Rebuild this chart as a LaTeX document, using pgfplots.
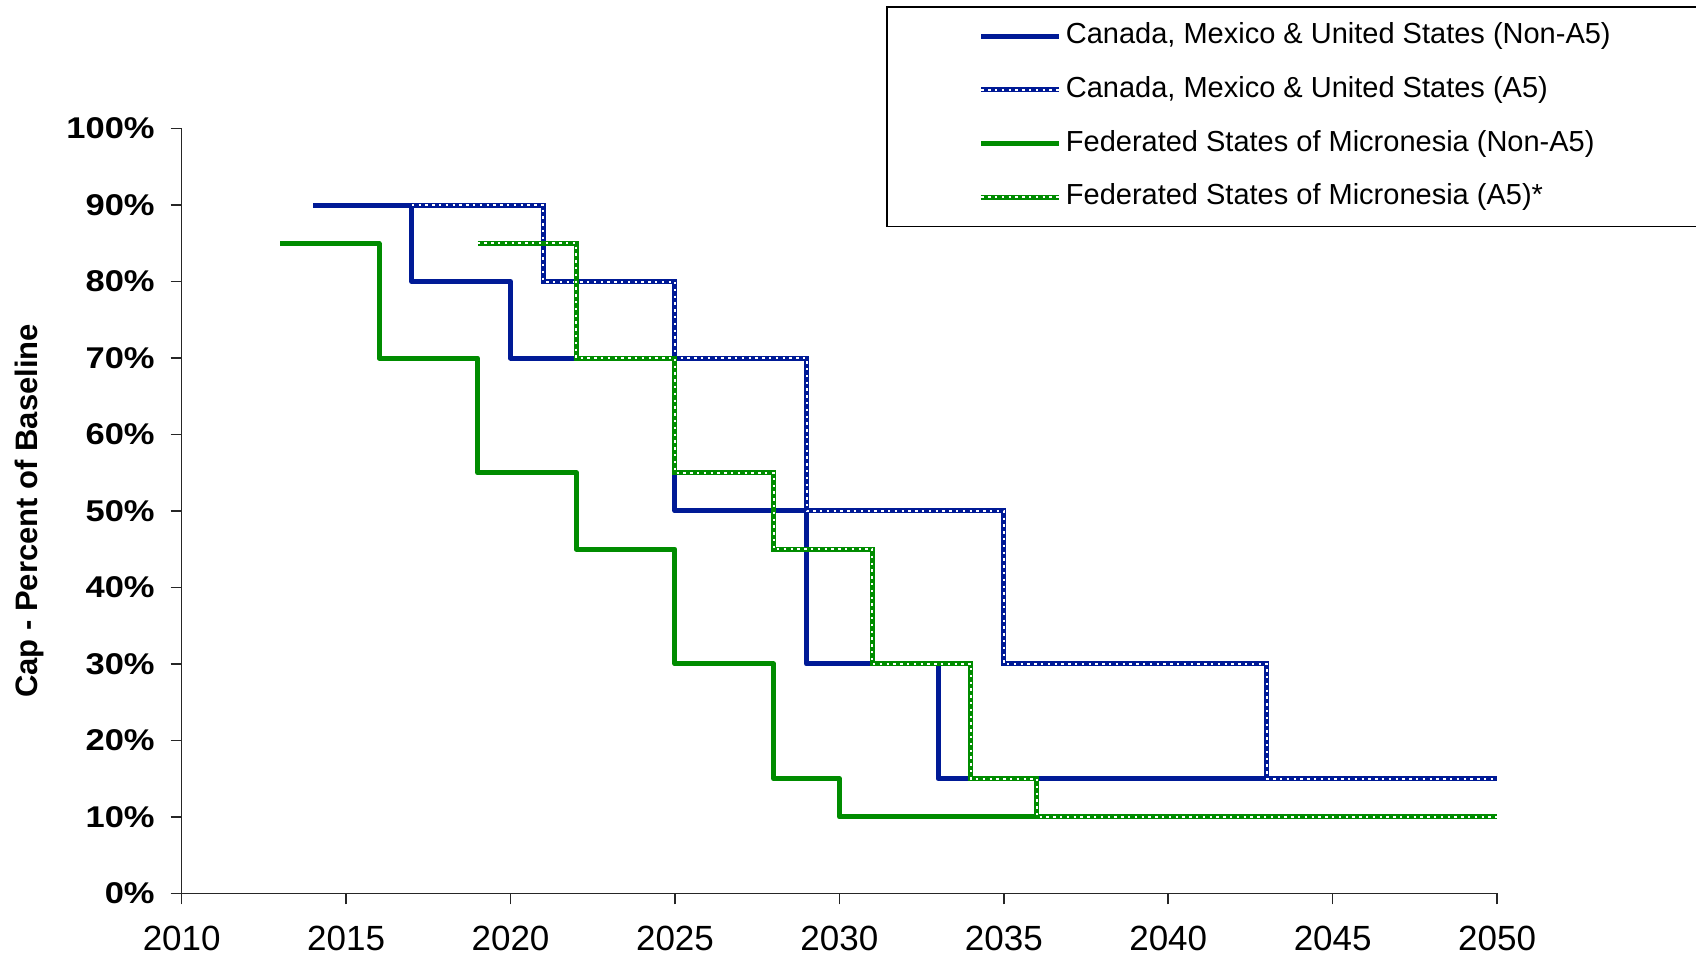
\documentclass[border=0pt]{standalone}
\usepackage{fontspec}
\setmainfont{Liberation Sans}
\newfontfamily\ybfont[FakeStretch=1.15]{Liberation Sans}
\usepackage{pgfplots}
\pgfplotsset{compat=1.18}
\definecolor{cblue}{RGB}{0,26,150}
\definecolor{cgreen}{RGB}{0,140,0}
\tikzset{
  solidl/.style={line width=2.5pt, line join=round},
  a5l/.style={line width=2.5pt, postaction={draw=white, line width=1pt, dash pattern=on 1.2pt off 2.2pt}},
}
\begin{document}
\begin{tikzpicture}
\useasboundingbox (-90.85pt,-31.8pt) rectangle (757.15pt,446.7pt);
\begin{axis}[
  anchor=south west, at={(0,0)},
  scale only axis, width=657.7pt, height=382.4pt,
  xmin=2010, xmax=2050, ymin=0, ymax=100,
  axis x line=bottom, axis y line=left,
  axis line style={-, line width=0.8pt, black!85},
  tick style={line width=0.8pt, black!85},
  major tick length=5.5pt, tick align=outside,
  xtick={2010,2015,...,2050}, ytick={0,10,...,100},
  /pgf/number format/1000 sep={},
  /pgf/number format/assume math mode=true,
  yticklabel={\pgfmathprintnumber{\tick}\%},
  yticklabel style={font=\ybfont\bfseries\fontsize{15}{18}\selectfont, xshift=-4.5pt},
  xticklabel style={font=\fontsize{17.5}{20}\selectfont, yshift=-7.5pt},
  ylabel={Cap - Percent of Baseline},
  ylabel style={font=\bfseries\fontsize{15.5}{18}\selectfont, at={(axis description cs:-0.116,0.5)}, anchor=center},
  legend style={at={(rel axis cs:0.5355,1.1598)}, anchor=north west, draw=black, line width=0.8pt,
    inner xsep=46pt, inner ysep=5.2pt, row sep=8.4pt,
    font=\fontsize{14.5}{17}\selectfont,
    nodes={inner sep=2pt, text height=11pt, text depth=3.5pt},
    cells={anchor=west}},
  legend image code/.code={\draw[#1] (0pt,0pt) -- (39pt,0pt);},
]
\addplot[const plot, cblue, solidl] coordinates {(2014,90)(2017,80)(2020,70)(2025,50)(2029,30)(2033,15)(2050,15)};
\addlegendentry{Canada, Mexico \& United States (Non-A5)}
\addplot[const plot, cblue, a5l] coordinates {(2017,90)(2021,80)(2025,70)(2029,50)(2035,30)(2043,15)(2050,15)};
\addlegendentry{Canada, Mexico \& United States (A5)}
\addplot[const plot, cgreen, solidl] coordinates {(2013,85)(2016,70)(2019,55)(2022,45)(2025,30)(2028,15)(2030,10)(2050,10)};
\addlegendentry{Federated States of Micronesia (Non-A5)}
\addplot[const plot, cgreen, a5l] coordinates {(2019,85)(2022,70)(2025,55)(2028,45)(2031,30)(2034,15)(2036,10)(2050,10)};
\addlegendentry{Federated States of Micronesia (A5)*}
\end{axis}
\end{tikzpicture}
\end{document}
